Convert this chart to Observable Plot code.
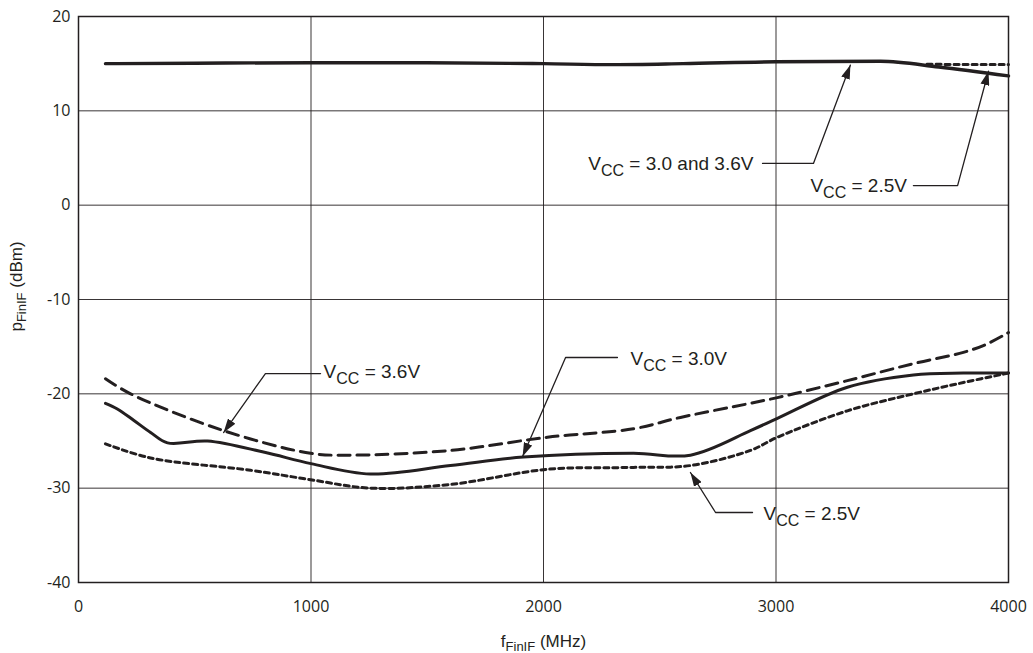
<!DOCTYPE html>
<html><head><meta charset="utf-8">
<script src="https://cdn.jsdelivr.net/npm/d3@7"></script>
<script src="https://cdn.jsdelivr.net/npm/@observablehq/plot@0.6"></script>
<style>html,body{margin:0;padding:0;background:#fff}#chart svg{display:block}</style>
</head><body><div id="chart"></div>
<script>
// Axis ticks
const xTicks = [0, 1000, 2000, 3000, 4000];
const yTicks = [-40, -30, -20, -10, 0, 10, 20];

// Upper curves: VCC = 3.0V and 3.6V (solid), VCC = 2.5V (dotted, diverges at the high end)
const topFreq = [116, 500, 1000, 1500, 2000, 2300, 2600, 3000, 3450, 3700, 4000];
const topVcc30and36 = [15.0, 15.05, 15.1, 15.1, 15.0, 14.9, 15.0, 15.2, 15.25, 14.65, 13.7];
const topFreq25 = [3650, 3850, 4000];
const topVcc25 = [14.95, 14.9, 14.9];

// Lower curves
const freq36 = [116, 224, 624, 998, 1170, 1600, 2017, 2387, 2589, 2890, 3006, 3307, 3591, 3806, 3900, 4000];
const vcc36 = [-18.4, -20.0, -23.9, -26.3, -26.5, -26.0, -24.6, -23.7, -22.5, -21.0, -20.4, -18.6, -16.8, -15.6, -14.8, -13.5];

const freq30 = [116, 167, 237, 310, 383, 555, 800, 1000, 1256, 1600, 1914, 2387, 2632, 2890, 3006, 3307, 3591, 3806, 4000];
const vcc30 = [-21.0, -21.6, -22.8, -24.1, -25.2, -25.0, -26.2, -27.4, -28.5, -27.6, -26.7, -26.3, -26.5, -23.9, -22.6, -19.3, -18.0, -17.8, -17.8];

const freq25 = [116, 310, 740, 998, 1256, 1600, 2017, 2387, 2632, 2890, 3006, 3307, 3591, 3806, 4000];
const vcc25 = [-25.3, -26.8, -28.1, -29.1, -30.0, -29.6, -28.0, -27.8, -27.6, -26.0, -24.6, -21.8, -20.0, -18.8, -17.8];

// Annotations (data units)
const annoText   = ["VCC = 3.0 and 3.6V", "VCC = 2.5V", "VCC = 3.6V", "VCC = 3.0V", "VCC = 2.5V"];
const annoAnchor = ["end", "start", "start", "start", "start"];
const annoFreq   = [2903, 3148, 1054, 2374, 2946];
const annoDbm    = [4.36, 2.08, -17.69, -16.26, -32.74];
// Leader polylines: start, corner, tip
const leaderId   = [0,0,0, 1,1,1, 2,2,2, 3,3,3, 4,4,4];
const leaderFreq = [2942,3161,3320, 3591,3781,3914, 1041,804,624, 2318,2095,1910, 2899,2740,2632];
const leaderDbm  = [4.42,4.42,14.85, 2.08,2.08,14.2, -17.85,-17.85,-24.1, -16.15,-16.15,-26.65, -32.58,-32.58,-28.34];

// Axis titles
const xTitle = "fFinIF (MHz)";
const yTitle = "pFinIF (dBm)";

const ink = "#231f20";
const seriesOf = (fs, vs) => fs.map((f, i) => ({f, v: vs[i]}));
const leaders = leaderFreq.map((f, i) => ({id: leaderId[i], f, v: leaderDbm[i]}));
const annos = annoText.map((t, i) => ({t, a: annoAnchor[i], f: annoFreq[i], v: annoDbm[i]}));
const fmt = d => String(d);
const annoFont = {x: "f", y: "v", text: "t", fill: ink, fontFamily: "'Liberation Sans', Arial, sans-serif", fontSize: 19};

const chart = Plot.plot({
  width: 1033, height: 653,
  marginLeft: 78, marginRight: 25, marginTop: 16, marginBottom: 71,
  style: {fontFamily: "'Open Sans', sans-serif", fontSize: "16px", color: ink, background: "#fff"},
  x: {domain: [0, 4000], ticks: xTicks, tickSize: 0, tickPadding: 18, label: null, tickFormat: fmt},
  y: {domain: [-40, 20], ticks: yTicks, tickSize: 0, tickPadding: 8, label: null, tickFormat: fmt},
  marks: [
    Plot.gridX(xTicks, {stroke: ink, strokeOpacity: 0.9, strokeWidth: 1}),
    Plot.gridY(yTicks, {stroke: ink, strokeOpacity: 0.9, strokeWidth: 1}),
    Plot.frame({stroke: ink, strokeWidth: 1.5}),
    Plot.line(seriesOf(topFreq25, topVcc25), {x: "f", y: "v", stroke: ink, strokeWidth: 3, strokeDasharray: "5,4", curve: "monotone-x"}),
    Plot.line(seriesOf(topFreq, topVcc30and36), {x: "f", y: "v", stroke: ink, strokeWidth: 3.4, curve: "monotone-x"}),
    Plot.line(seriesOf(freq36, vcc36), {x: "f", y: "v", stroke: ink, strokeWidth: 3, strokeDasharray: "12,7", curve: "catmull-rom"}),
    Plot.line(seriesOf(freq30, vcc30), {x: "f", y: "v", stroke: ink, strokeWidth: 3, curve: "catmull-rom"}),
    Plot.line(seriesOf(freq25, vcc25), {x: "f", y: "v", stroke: ink, strokeWidth: 3, strokeDasharray: "5,4", curve: "catmull-rom"}),
    Plot.line(leaders, {x: "f", y: "v", z: "id", stroke: ink, strokeWidth: 1.3, markerEnd: "arrow"}),
    Plot.text(annos.filter(d => d.a === "end"), {...annoFont, textAnchor: "end"}),
    Plot.text(annos.filter(d => d.a === "start"), {...annoFont, textAnchor: "start"}),
    Plot.text([xTitle], {frameAnchor: "bottom", textAnchor: "middle", dy: 64, fill: ink, fontFamily: "'Liberation Sans', Arial, sans-serif", fontSize: 17}),
    Plot.text([yTitle], {frameAnchor: "left", textAnchor: "middle", dx: -62, dy: -13, rotate: -90, fill: ink, fontFamily: "'Liberation Sans', Arial, sans-serif", fontSize: 17})
  ]
});

// Subscripts
const rich = {
  "VCC = 3.0 and 3.6V": ["V", "CC", " = 3.0 and 3.6V", 16, 6],
  "VCC = 2.5V": ["V", "CC", " = 2.5V", 16, 6],
  "VCC = 3.6V": ["V", "CC", " = 3.6V", 16, 6],
  "VCC = 3.0V": ["V", "CC", " = 3.0V", 16, 6],
  [xTitle]: ["f", "FinIF", " (MHz)", 13, 4],
  [yTitle]: ["p", "FinIF", " (dBm)", 13, 4]
};
const NS = "http://www.w3.org/2000/svg";
chart.querySelectorAll("text").forEach(t => {
  const r = rich[t.textContent];
  if (!r) return;
  t.textContent = "";
  const a = document.createElementNS(NS, "tspan"); a.textContent = r[0];
  const b = document.createElementNS(NS, "tspan"); b.textContent = r[1];
  b.setAttribute("font-size", r[3]); b.setAttribute("dy", r[4]);
  const c = document.createElementNS(NS, "tspan"); c.textContent = r[2];
  c.setAttribute("dy", -r[4]);
  t.append(a, b, c);
});

// Filled arrowheads
chart.querySelectorAll("marker").forEach(m => {
  m.setAttribute("viewBox", "-14 -4.5 14 9");
  m.setAttribute("markerUnits", "userSpaceOnUse");
  m.setAttribute("markerWidth", "14");
  m.setAttribute("markerHeight", "9");
  m.setAttribute("refX", "0");
  m.setAttribute("refY", "0");
  m.setAttribute("fill", ink);
  m.setAttribute("stroke", "none");
  while (m.firstChild) m.removeChild(m.firstChild);
  const p = document.createElementNS(NS, "path");
  p.setAttribute("d", "M0,0L-14,-4.5L-14,4.5Z");
  m.appendChild(p);
});

document.getElementById("chart").appendChild(chart);
</script>
</body></html>
